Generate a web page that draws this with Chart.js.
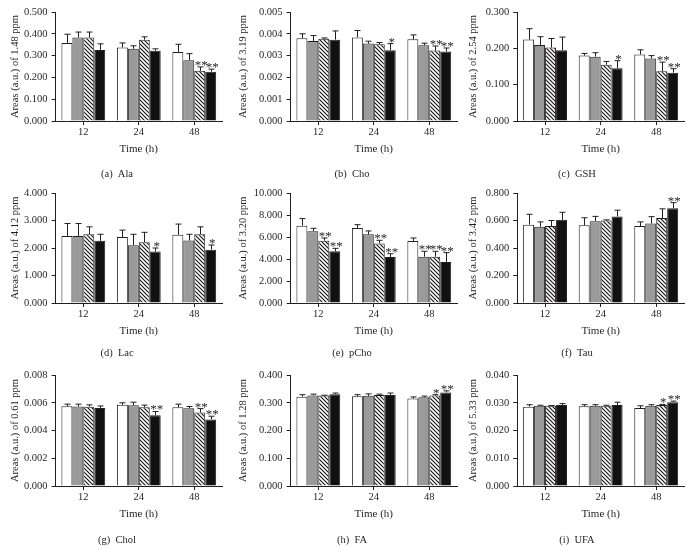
<!DOCTYPE html>
<html>
<head>
<meta charset="utf-8">
<script src="https://cdn.jsdelivr.net/npm/chart.js@4.4.0/dist/chart.umd.min.js"></script>
<style>
  html, body { margin: 0; padding: 0; background: #fff; }
  #wrap { position: relative; width: 691px; height: 547px; overflow: hidden; background: #fff; }
  #wrap canvas { position: absolute; }
</style>
</head>
<body>
<div id="wrap"></div>
<script>
const timeLabels = ['12', '24', '48'];
const groupNames = ['Group 1', 'Group 2', 'Group 3', 'Group 4'];

// one row per group (white, grey, hatched, black), one value per time point
const alaMean = [[0.358, 0.337, 0.317], [0.383, 0.331, 0.279], [0.383, 0.373, 0.230], [0.326, 0.322, 0.226]];
const alaSd = [[0.040, 0.021, 0.035], [0.025, 0.014, 0.030], [0.025, 0.013, 0.018], [0.028, 0.009, 0.012]];
const alaSig = [['', '', ''], ['', '', ''], ['', '', '**'], ['', '', '**']];

const choMean = [[0.00380, 0.00383, 0.00375], [0.00367, 0.00355, 0.00348], [0.00377, 0.00352, 0.00323], [0.00373, 0.00325, 0.00319]];
const choSd = [[0.00020, 0.00032, 0.00020], [0.00025, 0.00011, 0.00009], [0.00004, 0.00008, 0.00021], [0.00040, 0.00030, 0.00016]];
const choSig = [['', '', ''], ['', '', ''], ['', '', '**'], ['', '*', '**']];

const gshMean = [[0.224, 0.180, 0.183], [0.209, 0.177, 0.172], [0.202, 0.155, 0.137], [0.195, 0.145, 0.133]];
const gshSd = [[0.030, 0.006, 0.013], [0.023, 0.011, 0.008], [0.025, 0.009, 0.025], [0.036, 0.021, 0.011]];
const gshSig = [['', '', ''], ['', '', ''], ['', '', '**'], ['', '*', '**']];

const lacMean = [[2.44, 2.40, 2.48], [2.44, 2.10, 2.27], [2.50, 2.21, 2.50], [2.26, 1.87, 1.94]];
const lacSd = [[0.45, 0.25, 0.39], [0.45, 0.40, 0.23], [0.27, 0.36, 0.27], [0.24, 0.13, 0.17]];
const lacSig = [['', '', ''], ['', '', ''], ['', '', ''], ['', '*', '*']];

const pchoMean = [[7.03, 6.82, 5.64], [6.52, 6.24, 4.21], [5.67, 5.42, 4.21], [4.70, 4.18, 3.73]];
const pchoSd = [[0.64, 0.30, 0.27], [0.27, 0.31, 0.49], [0.24, 0.28, 0.49], [0.27, 0.30, 0.85]];
const pchoSig = [['', '', ''], ['', '', '**'], ['**', '**', '**'], ['**', '**', '**']];

const tauMean = [[0.570, 0.565, 0.560], [0.555, 0.595, 0.578], [0.560, 0.600, 0.618], [0.605, 0.630, 0.690]];
const tauSd = [[0.075, 0.055, 0.030], [0.035, 0.035, 0.050], [0.040, 0.005, 0.067], [0.055, 0.045, 0.040]];
const tauSig = [['', '', ''], ['', '', ''], ['', '', ''], ['', '', '**']];

const cholMean = [[0.00575, 0.00585, 0.00568], [0.00573, 0.00582, 0.00560], [0.00572, 0.00568, 0.00530], [0.00562, 0.00510, 0.00480]];
const cholSd = [[0.00015, 0.00015, 0.00022], [0.00017, 0.00022, 0.00013], [0.00013, 0.00015, 0.00028], [0.00015, 0.00027, 0.00023]];
const cholSig = [['', '', ''], ['', '', ''], ['', '', '**'], ['', '**', '**']];

const faMean = [[0.322, 0.323, 0.315], [0.326, 0.325, 0.320], [0.326, 0.328, 0.326], [0.331, 0.328, 0.337]];
const faSd = [[0.007, 0.006, 0.006], [0.005, 0.007, 0.004], [0.001, 0.003, 0.003], [0.004, 0.007, 0.006]];
const faSig = [['', '', ''], ['', '', ''], ['', '', '*'], ['', '', '**']];

const ufaMean = [[0.0286, 0.0287, 0.0281], [0.0289, 0.0289, 0.0289], [0.0289, 0.0289, 0.0292], [0.0292, 0.0292, 0.0302]];
const ufaSd = [[0.0007, 0.0006, 0.0008], [0.0002, 0.0004, 0.0004], [0.0001, 0.0002, 0.0002], [0.0005, 0.0010, 0.0004]];
const ufaSig = [['', '', ''], ['', '', ''], ['', '', '*'], ['', '', '**']];

const PANELS = [
  { caption: '(a)  Ala', yTitle: 'Areas (a.u.) of 1.48 ppm', max: 0.5, step: 0.1, mean: alaMean, sd: alaSd, sig: alaSig, col: 0, row: 0 },
  { caption: '(b)  Cho', yTitle: 'Areas (a.u.) of 3.19 ppm', max: 0.005, step: 0.001, mean: choMean, sd: choSd, sig: choSig, col: 1, row: 0 },
  { caption: '(c)  GSH', yTitle: 'Areas (a.u.) of 2.54 ppm', max: 0.3, step: 0.1, mean: gshMean, sd: gshSd, sig: gshSig, col: 2, row: 0 },
  { caption: '(d)  Lac', yTitle: 'Areas (a.u.) of 4.12 ppm', max: 4, step: 1, mean: lacMean, sd: lacSd, sig: lacSig, col: 0, row: 1 },
  { caption: '(e)  pCho', yTitle: 'Areas (a.u.) of 3.20 ppm', max: 10, step: 2, mean: pchoMean, sd: pchoSd, sig: pchoSig, col: 1, row: 1 },
  { caption: '(f)  Tau', yTitle: 'Areas (a.u.) of 3.42 ppm', max: 0.8, step: 0.2, mean: tauMean, sd: tauSd, sig: tauSig, col: 2, row: 1 },
  { caption: '(g)  Chol', yTitle: 'Areas (a.u.) of 0.61 ppm', max: 0.008, step: 0.002, mean: cholMean, sd: cholSd, sig: cholSig, col: 0, row: 2 },
  { caption: '(h)  FA', yTitle: 'Areas (a.u.) of 1.28 ppm', max: 0.4, step: 0.1, mean: faMean, sd: faSd, sig: faSig, col: 1, row: 2 },
  { caption: '(i)  UFA', yTitle: 'Areas (a.u.) of 5.33 ppm', max: 0.04, step: 0.01, mean: ufaMean, sd: ufaSd, sig: ufaSig, col: 2, row: 2 }
];

const colX = [0, 228, 458];
const colW = [228, 230, 233];
const rowY = [0, 180, 360];
const rowH = [180, 180, 187];
const plotLeft = [55.6, 290.6, 517.3];
const plotRight = [222, 457, 684];
const plotTop = [12, 193, 375];
const plotBottom = [121, 303, 486];
const captionX = [117, 352, 577];
const captionDy = [53, 50, 54];
const X_AXIS_H = 35;

const INK = '#231f20';
const FONT = "'Liberation Serif', 'DejaVu Serif', serif";
Chart.defaults.font.family = FONT;
Chart.defaults.font.size = 10.5;
Chart.defaults.color = INK;

function hatchPattern() {
  const c = document.createElement('canvas');
  c.width = 4; c.height = 4;
  const g = c.getContext('2d');
  g.fillStyle = '#fff';
  g.fillRect(0, 0, 4, 4);
  g.strokeStyle = '#111';
  g.lineWidth = 1.1;
  g.beginPath();
  g.moveTo(-1, -1); g.lineTo(5, 5);
  g.moveTo(-1, 3); g.lineTo(1, 5);
  g.moveTo(3, -1); g.lineTo(5, 1);
  g.stroke();
  return g.createPattern(c, 'repeat');
}

const fills = ['#ffffff', '#9a9a9a', hatchPattern(), '#111111'];

const errorBarPlugin = {
  id: 'errorBars',
  afterDatasetsDraw(chart) {
    const { ctx, scales: { y } } = chart;
    ctx.save();
    ctx.strokeStyle = INK;
    ctx.fillStyle = INK;
    ctx.lineWidth = 1;
    ctx.font = `13px ${FONT}`;
    ctx.textAlign = 'center';
    ctx.textBaseline = 'alphabetic';
    chart.data.datasets.forEach((ds, i) => {
      chart.getDatasetMeta(i).data.forEach((bar, j) => {
        const top = y.getPixelForValue(ds.data[j] + ds.sd[j]);
        const cx = Math.round(bar.x) + 0.5;
        ctx.beginPath();
        ctx.moveTo(cx, bar.y);
        ctx.lineTo(cx, top);
        ctx.moveTo(cx - 3, top);
        ctx.lineTo(cx + 3, top);
        ctx.stroke();
        if (ds.sig[j]) ctx.fillText(ds.sig[j], bar.x + 1.5, top + 2);
      });
    });
    ctx.restore();
  }
};

const captionPlugin = {
  id: 'caption',
  afterDraw(chart, args, opts) {
    const { ctx, chartArea } = chart;
    ctx.save();
    ctx.fillStyle = INK;
    ctx.font = `10.5px ${FONT}`;
    ctx.textAlign = 'center';
    ctx.textBaseline = 'middle';
    ctx.fillText(opts.text, opts.x, chartArea.bottom + opts.dy);
    ctx.restore();
  }
};

function buildPanel(p) {
  const x0 = colX[p.col], y0 = rowY[p.row], w = colW[p.col], h = rowH[p.row];
  const canvas = document.createElement('canvas');
  canvas.width = w;
  canvas.height = h;
  canvas.style.left = `${x0}px`;
  canvas.style.top = `${y0}px`;
  canvas.style.width = `${w}px`;
  canvas.style.height = `${h}px`;
  document.getElementById('wrap').appendChild(canvas);

  const axisGrid = { display: true, drawOnChartArea: false, drawTicks: true, tickLength: 4, color: INK, lineWidth: 1 };

  new Chart(canvas, {
    type: 'bar',
    data: {
      labels: timeLabels,
      datasets: p.mean.map((vals, i) => ({
        label: groupNames[i],
        data: vals,
        sd: p.sd[i],
        sig: p.sig[i],
        backgroundColor: fills[i],
        borderColor: INK,
        borderWidth: 1,
        categoryPercentage: 0.79,
        barPercentage: 1
      }))
    },
    options: {
      responsive: false,
      animation: false,
      devicePixelRatio: 1,
      layout: {
        padding: {
          left: 0,
          top: plotTop[p.row] - y0,
          right: w - (plotRight[p.col] - x0),
          bottom: h - (plotBottom[p.row] - y0) - X_AXIS_H
        }
      },
      plugins: {
        legend: { display: false },
        tooltip: { enabled: false },
        caption: { text: p.caption, x: captionX[p.col] - x0, dy: captionDy[p.row] }
      },
      scales: {
        x: {
          offset: true,
          grid: { ...axisGrid, offset: false },
          border: { display: true, color: INK, width: 1 },
          ticks: { padding: 1, color: INK, font: { size: 10.5 } },
          title: { display: true, text: 'Time (h)', color: INK, font: { size: 11 }, padding: { top: 0, bottom: 0 } },
          afterFit(scale) { scale.height = X_AXIS_H; }
        },
        y: {
          min: 0,
          max: p.max,
          grid: axisGrid,
          border: { display: true, color: INK, width: 1 },
          ticks: { stepSize: p.step, padding: 4, color: INK, font: { size: 10.5 }, callback: v => Number(v).toFixed(3) },
          title: { display: true, text: p.yTitle, color: INK, font: { size: 10.5 }, padding: { top: 9, bottom: 0 } },
          afterFit(scale) { scale.width = plotLeft[p.col] - x0; }
        }
      }
    },
    plugins: [errorBarPlugin, captionPlugin]
  });
}

PANELS.forEach(buildPanel);
</script>
</body>
</html>
